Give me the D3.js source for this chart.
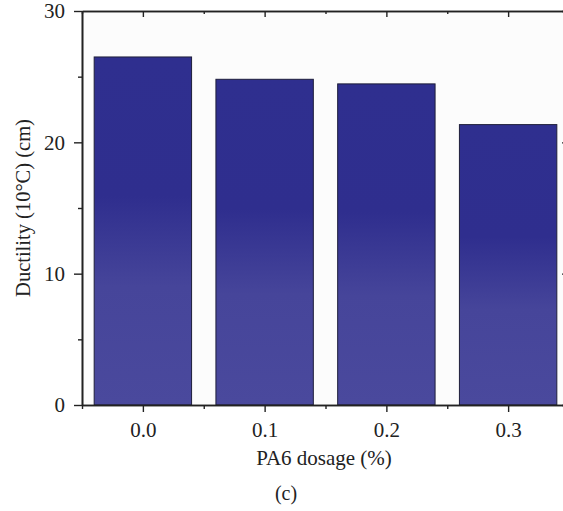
<!DOCTYPE html>
<html>
<head>
<meta charset="utf-8">
<script src="https://cdn.jsdelivr.net/npm/d3@7"></script>
<style>
  html, body { margin: 0; padding: 0; background: #ffffff; }
  svg { display: block; }
  text { font-family: "Liberation Serif", "DejaVu Serif", serif; fill: #222; }
</style>
</head>
<body>
<svg id="chart" width="563" height="511"></svg>
<script>
// ---- data ----
const categories = [0.0, 0.1, 0.2, 0.3];
const ductility = [26.5, 24.8, 24.45, 21.35];
const xMajorTicks = [0.0, 0.1, 0.2, 0.3];
const xMinorTicks = [-0.05, 0.05, 0.15, 0.25, 0.35];
const yMajorTicks = [0, 10, 20, 30];
const yMinorTicks = [5, 15, 25];
const xTitle = "PA6 dosage (%)";
const yTitle = "Ductility (10°C) (cm)";
const panelLabel = "(c)";

(function () {
// ---- layout ----
const svg = d3.select("#chart");
const pLeft = 82, pRight = 569, pTop = 11, pBottom = 405;
const barWidthData = 0.08;

const x = d3.scaleLinear().domain([-0.05, 0.35]).range([pLeft, pRight]);
const y = d3.scaleLinear().domain([0, 30]).range([pBottom, pTop]);

// gradient
const defs = svg.append("defs");
const grad = defs.append("linearGradient").attr("id", "barGrad")
  .attr("x1", 0).attr("y1", 0).attr("x2", 0).attr("y2", 1);
grad.append("stop").attr("offset", "0").attr("stop-color", "#2f2f8f");
grad.append("stop").attr("offset", "0.40").attr("stop-color", "#2f2e8e");
grad.append("stop").attr("offset", "0.66").attr("stop-color", "#46459a");
grad.append("stop").attr("offset", "1").attr("stop-color", "#4a499d");

// plot background
svg.append("rect").attr("x", pLeft).attr("y", pTop)
  .attr("width", pRight - pLeft).attr("height", pBottom - pTop)
  .attr("fill", "#fcfcfc");

// bars
svg.append("g").selectAll("rect").data(categories).join("rect")
  .attr("x", (d) => x(d - barWidthData / 2))
  .attr("width", (d) => x(d + barWidthData / 2) - x(d - barWidthData / 2))
  .attr("y", (d, i) => y(ductility[i]))
  .attr("height", (d, i) => y(0) - y(ductility[i]))
  .attr("fill", "url(#barGrad)")
  .attr("stroke", "#1e1e3a")
  .attr("stroke-width", 1);

function styleAxis(g) {
  g.selectAll(".domain").attr("stroke", "#222").attr("stroke-width", 1.6);
  g.selectAll(".tick line").attr("stroke", "#222").attr("stroke-width", 1.4);
  g.selectAll(".tick text").style("font-size", "21px").attr("fill", "#222")
    .style("font-family", "'Liberation Serif', 'DejaVu Serif', serif");
}

// bottom axis
const gx = svg.append("g").attr("transform", `translate(0,${pBottom})`)
  .call(d3.axisBottom(x).tickValues(xMajorTicks).tickFormat(d3.format(".1f"))
    .tickSize(7).tickSizeOuter(0).tickPadding(10));
styleAxis(gx);
const gxm = svg.append("g").attr("transform", `translate(0,${pBottom})`)
  .call(d3.axisBottom(x).tickValues(xMinorTicks).tickFormat("").tickSize(4).tickSizeOuter(0));
styleAxis(gxm);

// top axis (ticks inward)
const gt = svg.append("g").attr("transform", `translate(0,${pTop})`)
  .call(d3.axisBottom(x).tickValues(xMajorTicks).tickFormat("").tickSize(6).tickSizeOuter(0));
styleAxis(gt);
const gtm = svg.append("g").attr("transform", `translate(0,${pTop})`)
  .call(d3.axisBottom(x).tickValues(xMinorTicks).tickFormat("").tickSize(3).tickSizeOuter(0));
styleAxis(gtm);

// left axis
const gy = svg.append("g").attr("transform", `translate(${pLeft},0)`)
  .call(d3.axisLeft(y).tickValues(yMajorTicks).tickFormat(d3.format("d"))
    .tickSize(8).tickSizeOuter(0).tickPadding(9));
styleAxis(gy);
const gym = svg.append("g").attr("transform", `translate(${pLeft},0)`)
  .call(d3.axisLeft(y).tickValues(yMinorTicks).tickFormat("").tickSize(4).tickSizeOuter(0));
styleAxis(gym);

// right axis (ticks inward)
const gr = svg.append("g").attr("transform", `translate(${pRight},0)`)
  .call(d3.axisLeft(y).tickValues(yMajorTicks).tickFormat("").tickSize(7).tickSizeOuter(0));
styleAxis(gr);
const grm = svg.append("g").attr("transform", `translate(${pRight},0)`)
  .call(d3.axisLeft(y).tickValues(yMinorTicks).tickFormat("").tickSize(3).tickSizeOuter(0));
styleAxis(grm);

// titles
svg.append("text")
  .attr("x", 324).attr("y", 465)
  .attr("text-anchor", "middle")
  .style("font-size", "21px")
  .text(xTitle);

svg.append("text")
  .attr("transform", `translate(30,${(pTop + pBottom) / 2}) rotate(-90)`)
  .attr("text-anchor", "middle")
  .style("font-size", "20.5px")
  .text(yTitle);

svg.append("text")
  .attr("x", 286).attr("y", 500)
  .attr("text-anchor", "middle")
  .style("font-size", "20px")
  .text(panelLabel);
})();
</script>
</body>
</html>
